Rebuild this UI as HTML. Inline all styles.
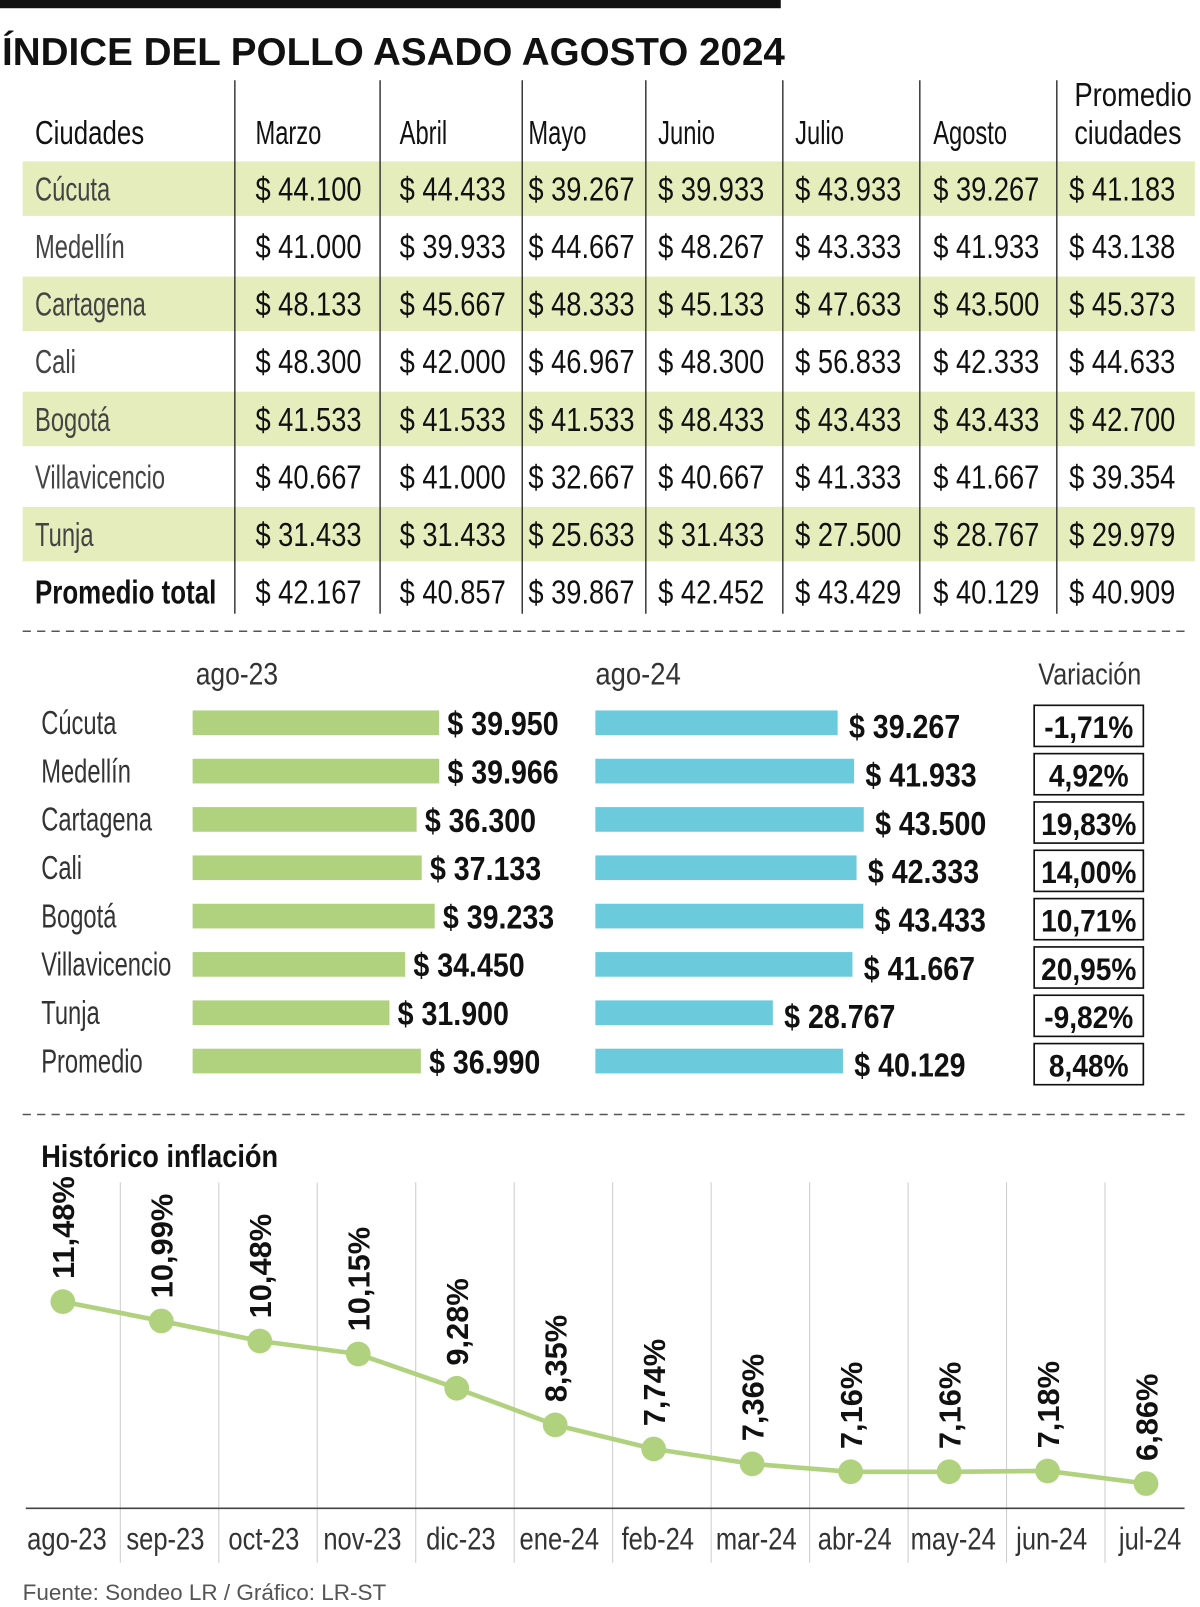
<!DOCTYPE html>
<html><head><meta charset="utf-8"><style>
html,body{margin:0;padding:0;background:#fff}
svg{display:block}
text{font-family:"Liberation Sans Narrow","Liberation Sans",sans-serif}
</style></head><body>
<svg id="root" width="1200" height="1607" viewBox="0 0 1165 1563" preserveAspectRatio="none" xmlns="http://www.w3.org/2000/svg">
<rect x="0" y="0" width="758" height="8" fill="#111"/>
<text x="2" y="63" font-size="38" font-weight="bold" fill="#111" textLength="760" lengthAdjust="spacingAndGlyphs">ÍNDICE DEL POLLO ASADO AGOSTO 2024</text>
<g id="table"></g>
<line x1="22" y1="614" x2="1150" y2="614" stroke="#555" stroke-width="1.5" stroke-dasharray="8,6"/>
<g id="bars"></g>
<line x1="22" y1="1084" x2="1150" y2="1084" stroke="#555" stroke-width="1.5" stroke-dasharray="8,6"/>
<text x="40" y="1135" font-size="31" font-weight="bold" fill="#111" textLength="230" lengthAdjust="spacingAndGlyphs">Histórico inflación</text>
<g id="line"></g>
<text x="22" y="1556" font-size="22" fill="#555" textLength="353" lengthAdjust="spacingAndGlyphs">Fuente: Sondeo LR / Gráfico: LR-ST</text>
</svg>
<script>
const NS="http://www.w3.org/2000/svg";
const months=["Marzo","Abril","Mayo","Junio","Julio","Agosto"];
const cities=["Cúcuta","Medellín","Cartagena","Cali","Bogotá","Villavicencio","Tunja"];
const tableValues=[
["$ 44.100","$ 44.433","$ 39.267","$ 39.933","$ 43.933","$ 39.267","$ 41.183"],
["$ 41.000","$ 39.933","$ 44.667","$ 48.267","$ 43.333","$ 41.933","$ 43.138"],
["$ 48.133","$ 45.667","$ 48.333","$ 45.133","$ 47.633","$ 43.500","$ 45.373"],
["$ 48.300","$ 42.000","$ 46.967","$ 48.300","$ 56.833","$ 42.333","$ 44.633"],
["$ 41.533","$ 41.533","$ 41.533","$ 48.433","$ 43.433","$ 43.433","$ 42.700"],
["$ 40.667","$ 41.000","$ 32.667","$ 40.667","$ 41.333","$ 41.667","$ 39.354"],
["$ 31.433","$ 31.433","$ 25.633","$ 31.433","$ 27.500","$ 28.767","$ 29.979"]];
const totalRow=["$ 42.167","$ 40.857","$ 39.867","$ 42.452","$ 43.429","$ 40.129","$ 40.909"];
const barCities=["Cúcuta","Medellín","Cartagena","Cali","Bogotá","Villavicencio","Tunja","Promedio"];
const ago23=[39950,39966,36300,37133,39233,34450,31900,36990];
const ago24=[39267,41933,43500,42333,43433,41667,28767,40129];
const variation=["-1,71%","4,92%","19,83%","14,00%","10,71%","20,95%","-9,82%","8,48%"];
const inflMonths=["ago-23","sep-23","oct-23","nov-23","dic-23","ene-24","feb-24","mar-24","abr-24","may-24","jun-24","jul-24"];
const inflValues=[11.48,10.99,10.48,10.15,9.28,8.35,7.74,7.36,7.16,7.16,7.18,6.86];

function mk(tag,attrs,parent,txt){const e=document.createElementNS(NS,tag);for(const k in attrs)e.setAttribute(k,attrs[k]);if(txt!==undefined)e.textContent=txt;parent.appendChild(e);return e;}
function fmt(v){return "$ "+String(v).replace(/\B(?=(\d{3})+(?!\d))/g,".");}
const squeeze=[];
function sq(el,f){squeeze.push([el,f]);return el;}

// TABLE
const tb=document.getElementById('table');
const colX=[248,388,513,639,772,906,1038];
const sepX=[228,369,507,627,760,893,1026];
const rowY=i=>184+i*56;
cities.forEach((c,i)=>{if(i%2===0){const r=mk('rect',{x:22,y:rowY(i)-27,width:1138,height:53,fill:'#e5edbd'},tb);

}});
sepX.forEach((x,i)=>{const l=mk('line',{x1:x,y1:78,x2:x,y2:597,stroke:'#222','stroke-width':1.3},tb);

});
let h=mk('text',{x:34,y:140,'font-size':32,fill:'#111',textLength:106,lengthAdjust:'spacingAndGlyphs'},tb,"Ciudades");


months.forEach((m,j)=>{const t=mk('text',{x:colX[j],y:140,'font-size':32,fill:'#111'},tb,m);


sq(t,0.72);});
h=mk('text',{x:1043,y:103,'font-size':32,fill:'#111',textLength:114,lengthAdjust:'spacingAndGlyphs'},tb,"Promedio");


h=mk('text',{x:1043,y:140,'font-size':32,fill:'#111',textLength:104,lengthAdjust:'spacingAndGlyphs'},tb,"ciudades");


cities.forEach((c,i)=>{
 const t=mk('text',{x:34,y:rowY(i)+11,'font-size':32,fill:'#444'},tb,c);
 
 
 sq(t,0.72);
 tableValues[i].forEach((v,j)=>{const e=mk('text',{x:colX[j],y:rowY(i)+11,'font-size':32,fill:'#111',textLength:103,lengthAdjust:'spacingAndGlyphs'},tb,v);
 
 });
});
h=mk('text',{x:34,y:rowY(7)+11,'font-size':32,'font-weight':'bold',fill:'#111',textLength:176,lengthAdjust:'spacingAndGlyphs'},tb,"Promedio total");


totalRow.forEach((v,j)=>{const e=mk('text',{x:colX[j],y:rowY(7)+11,'font-size':32,fill:'#111',textLength:103,lengthAdjust:'spacingAndGlyphs'},tb,v);

});

// BARS
const bg=document.getElementById('bars');
const bScale=0.00599;
const barY=i=>703+i*47;
let t=mk('text',{x:190,y:666,'font-size':31,fill:'#333',textLength:80,lengthAdjust:'spacingAndGlyphs'},bg,"ago-23");


t=mk('text',{x:578,y:666,'font-size':31,fill:'#333',textLength:83,lengthAdjust:'spacingAndGlyphs'},bg,"ago-24");


t=mk('text',{x:1008,y:666,'font-size':30,fill:'#333',textLength:100,lengthAdjust:'spacingAndGlyphs'},bg,"Variación");


barCities.forEach((c,i)=>{
 const y=barY(i);
 const l=mk('text',{x:40,y:y+11,'font-size':32,fill:'#333'},bg,c);
 
 
 sq(l,0.72);
 const w1=ago23[i]*bScale;
 const r1=mk('rect',{x:187,y:y-12,width:w1,height:24,fill:'#b0d27e'},bg);
 
 
 const v1=mk('text',{x:187+w1+8,y:y+12,'font-size':32,'font-weight':'bold',fill:'#111',textLength:108,lengthAdjust:'spacingAndGlyphs'},bg,fmt(ago23[i]));
 
 
 const w2=ago24[i]*bScale;
 const r2=mk('rect',{x:578,y:y-12,width:w2,height:24,fill:'#6ccadd'},bg);
 
 
 const v2=mk('text',{x:578+w2+11,y:y+15,'font-size':32,'font-weight':'bold',fill:'#111',textLength:108,lengthAdjust:'spacingAndGlyphs'},bg,fmt(ago24[i]));
 
 
 const b=mk('rect',{x:1004,y:y-17,width:106,height:40,fill:'none',stroke:'#111','stroke-width':1.6},bg);
 
 
 const vt=mk('text',{x:1057,y:y+15,'font-size':31,'font-weight':'bold',fill:'#111','text-anchor':'middle'},bg,variation[i]);
 
 
 sq(vt,0.88);
});

// LINE CHART
const lg=document.getElementById('line');
const xAt=i=>61+i*95.6;
const yAt=v=>1266+(11.48-v)*38.3;
for(let k=1;k<inflMonths.length;k++){const gx=(xAt(k-1)+xAt(k))/2+8;
 const g=mk('line',{x1:gx,y1:1150,x2:gx,y2:1520,stroke:'#ccc','stroke-width':1},lg);
 
 }
const ax=mk('line',{x1:25,y1:1467,x2:1150,y2:1467,stroke:'#444','stroke-width':1.5},lg);


const pts=inflValues.map((v,i)=>xAt(i)+","+yAt(v)).join(" ");
const pl=mk('polyline',{points:pts,fill:'none',stroke:'#b0d27e','stroke-width':4.5},lg);


inflValues.forEach((v,i)=>{
 const x=xAt(i),y=yAt(v);
 const c=mk('circle',{cx:x,cy:y,r:12,fill:'#b0d27e'},lg);
 
 
 const s=v.toFixed(2).replace('.',',')+'%';
 const lb=mk('text',{x:0,y:0,'font-size':30,'font-weight':'bold',fill:'#111',transform:`translate(${x+11},${y-22}) rotate(-90)`},lg,s);
 
 
 const m=mk('text',{x:x+4,y:1507,'font-size':31,fill:'#333','text-anchor':'middle'},lg,inflMonths[i]);
 
 
 sq(m,0.8);
});
squeeze.forEach(([el,f])=>{const w=el.getComputedTextLength();if(w>0){el.setAttribute('textLength',(w*f).toFixed(1));el.setAttribute('lengthAdjust','spacingAndGlyphs');}});
</script>
</body></html>
